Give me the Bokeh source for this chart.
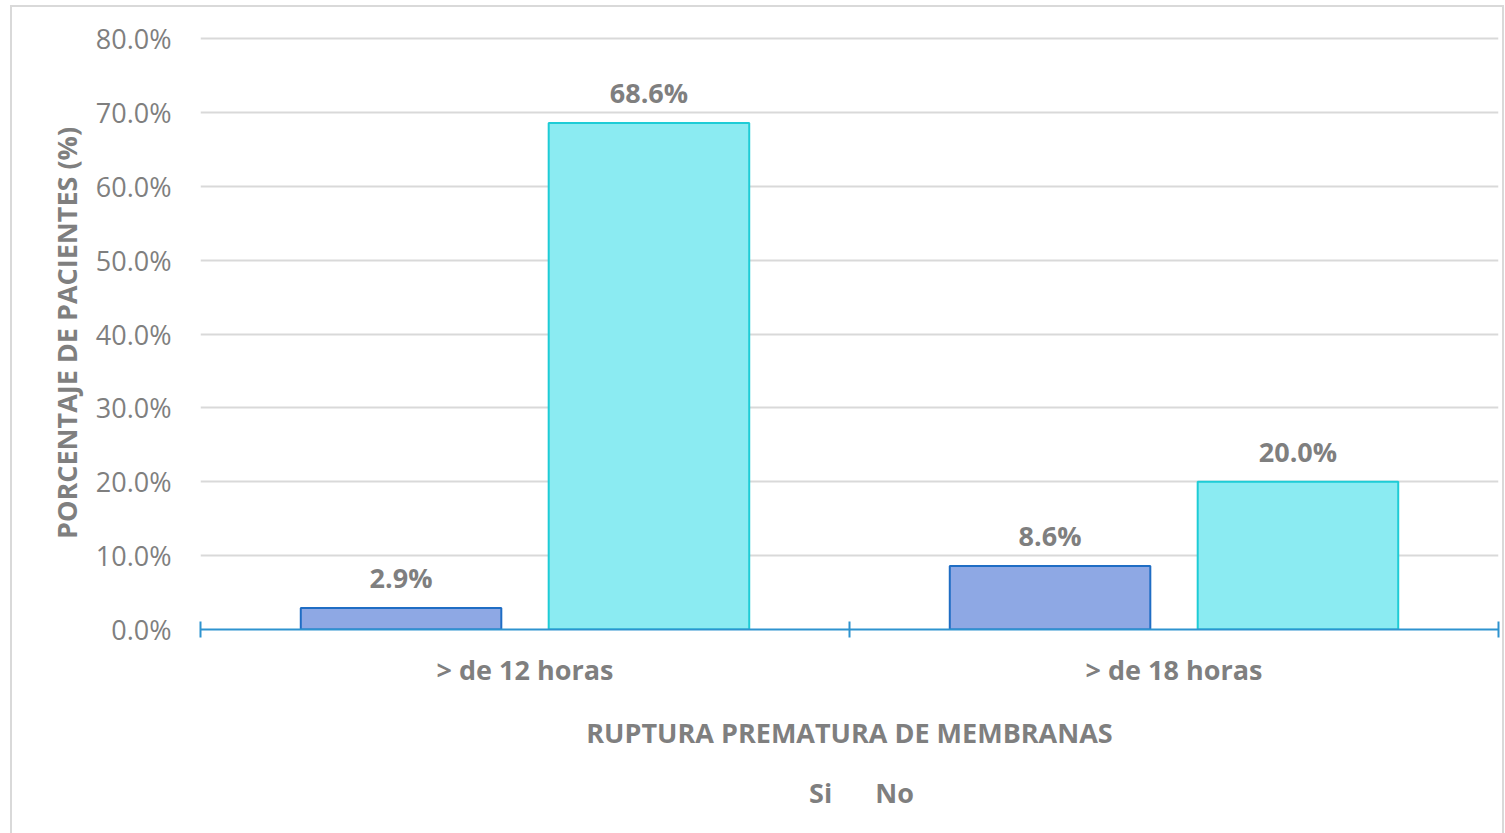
from bokeh.plotting import figure
from bokeh.layouts import column
from bokeh.models import (ColumnDataSource, Range1d, LinearAxis,
                          FixedTicker, PrintfTickFormatter, LabelSet, Legend, LegendItem)
from bokeh.core.properties import value
from bokeh.embed import file_html
from bokeh.resources import INLINE

categories = ["> de 12 horas", "> de 18 horas"]
series = ["Si", "No"]
si_values = [2.9, 8.6]
no_values = [68.6, 20.0]
y_ticks = [0, 10, 20, 30, 40, 50, 60, 70, 80]
y_title = "PORCENTAJE DE PACIENTES (%)"
x_title = "RUPTURA PREMATURA DE MEMBRANAS"

FONT = "Open Sans"
GRAY = "#7F7F7F"
BLUE_AXIS = "#2E93CF"
BORDER = "2px solid #D9D9D9"
SI_FILL, SI_LINE = "#8EA8E4", "#1F6DC4"
NO_FILL, NO_LINE = "#8BEBF2", "#1ECCD6"
FS = "27px"

n = len(categories)
off = 0.191
bw = 0.309
centers = [i + 0.5 for i in range(n)]

src = ColumnDataSource(dict(
    cat=categories,
    x_si=[c - off for c in centers],
    x_no=[c + off for c in centers],
    si=si_values,
    no=no_values,
    si_text=[f"{v:.1f}%" for v in si_values],
    no_text=[f"{v:.1f}%" for v in no_values],
))

p = figure(x_range=Range1d(0, n), y_range=Range1d(0, 80.3),
           frame_width=1294, frame_height=591,
           output_backend="svg", toolbar_location=None,
           x_axis_location=None,
           min_border_left=188, min_border_top=29, min_border_right=8, min_border_bottom=0)
p.outline_line_color = None
p.xgrid.grid_line_color = None
p.ygrid.grid_line_color = "#D9D9D9"
p.ygrid.grid_line_width = 2
p.ygrid.ticker = FixedTicker(ticks=y_ticks)

# y axis
ya = p.yaxis[0]
ya.ticker = FixedTicker(ticks=y_ticks)
ya.formatter = PrintfTickFormatter(format="%.1f%%")
ya.axis_line_color = None
ya.major_tick_line_color = None
ya.minor_tick_line_color = None
ya.major_label_standoff = 23
ya.major_label_text_font = FONT
ya.major_label_text_font_size = FS
ya.major_label_text_color = GRAY
ya.axis_label = y_title
ya.axis_label_text_font = FONT
ya.axis_label_text_font_size = FS
ya.axis_label_text_font_style = "bold"
ya.axis_label_text_color = GRAY
ya.axis_label_standoff = 8

# bars
p.vbar(x="x_si", top="si", width=bw, source=src,
       fill_color=SI_FILL, line_color=SI_LINE, line_width=2)
p.vbar(x="x_no", top="no", width=bw, source=src,
       fill_color=NO_FILL, line_color=NO_LINE, line_width=2)

for xc, col, txt in (("x_si", "si", "si_text"), ("x_no", "no", "no_text")):
    p.add_layout(LabelSet(x=xc, y=col, text=txt, source=src,
                          y_offset=20, text_align="center", text_baseline="alphabetic",
                          text_font=value(FONT), text_font_size=FS, text_font_style="bold",
                          text_color=GRAY))

# boundary tick axis
tick_axis = LinearAxis(ticker=FixedTicker(ticks=list(range(n + 1)), minor_ticks=[]),
                       major_label_text_font_size="0px", major_label_standoff=0,
                       axis_line_color=BLUE_AXIS, axis_line_width=2,
                       major_tick_in=8, major_tick_out=8,
                       major_tick_line_color=BLUE_AXIS, major_tick_line_width=2,
                       minor_tick_line_color=None)
p.add_layout(tick_axis, "below")

cat_axis = LinearAxis(ticker=FixedTicker(ticks=centers, minor_ticks=[]),
                      major_label_overrides={c: lab for c, lab in zip(centers, categories)},
                      axis_line_color=None, major_tick_line_color=None,
                      minor_tick_line_color=None,
                      major_label_standoff=7,
                      major_label_text_font=FONT, major_label_text_font_size=FS,
                      major_label_text_font_style="bold", major_label_text_color=GRAY,
                      axis_label=x_title, axis_label_standoff=23,
                      axis_label_text_font=FONT, axis_label_text_font_size=FS,
                      axis_label_text_font_style="bold", axis_label_text_color=GRAY)
p.add_layout(cat_axis, "below")

p.styles = {"border": BORDER, "border-bottom": "none", "margin": "5px 0 0 10px"}

# legend strip below the chart
lg = figure(x_range=Range1d(0, 1), y_range=Range1d(0, 1),
            frame_width=1294, frame_height=82,
            output_backend="svg", toolbar_location=None,
            x_axis_location=None, y_axis_location=None,
            min_border_left=188, min_border_top=0, min_border_right=8, min_border_bottom=0)
lg.outline_line_color = None
lg.grid.visible = False
empty = ColumnDataSource(dict(x=[], top=[]))
l_si = lg.vbar(x="x", top="top", width=0.1, source=empty,
               fill_color=SI_FILL, line_color=SI_LINE, line_width=2)
l_no = lg.vbar(x="x", top="top", width=0.1, source=empty,
               fill_color=NO_FILL, line_color=NO_LINE, line_width=2)
legend = Legend(items=[LegendItem(label=series[0], renderers=[l_si]),
                       LegendItem(label=series[1], renderers=[l_no])],
                orientation="horizontal", location="center",
                glyph_width=18, glyph_height=18, label_standoff=7, spacing=18,
                label_text_font=FONT, label_text_font_size=FS, label_text_font_style="bold",
                label_text_color=GRAY, border_line_color=None, background_fill_alpha=0,
                margin=0, padding=0)
lg.add_layout(legend, "center")
lg.styles = {"border-left": BORDER, "border-right": BORDER, "margin-left": "10px"}

layout = column(p, lg, spacing=0)

open("out.html", "w").write(file_html(layout, INLINE))
